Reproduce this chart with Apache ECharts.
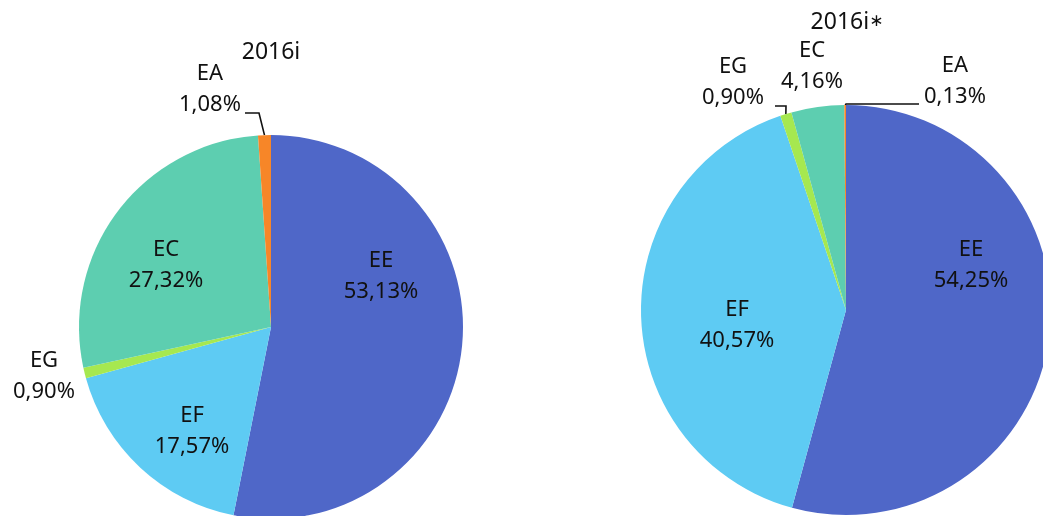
<!DOCTYPE html>
<html>
<head>
<meta charset="utf-8">
<script src="https://cdn.jsdelivr.net/npm/echarts@6/dist/echarts.min.js"></script>
<style>
html,body{margin:0;padding:0;background:#fff;}
#chart{width:1043px;height:516px;}
</style>
</head>
<body>
<div id="chart"></div>
<script>
// ---- data ----
var categories = ['EE', 'EF', 'EG', 'EC', 'EA'];
var valuesLeft = [53.13, 17.57, 0.90, 27.32, 1.08];
var valuesRight = [54.25, 40.57, 0.90, 4.16, 0.13];
var titleLeft = '2016i';
var titleRight = '2016i';
var titleRightMark = '\u2217';

// ---- styles / layout ----
var colors = {EE: '#4F67C8', EF: '#5ECBF3', EG: '#A6E850', EC: '#5DCEB0', EA: '#F78628'};
var FONT = 'Noto Sans';
var labelPos = [
  {EE: [381, 276], EF: [192, 431], EG: [44, 376], EC: [166, 265], EA: [210, 89]},
  {EE: [971, 265], EF: [737, 325], EG: [733, 82], EC: [812, 66], EA: [955, 81]}
];
// bend points of label lines (after the slice-edge point), by series
var linePts = [
  {EA: [[259, 113], [245, 113]]},
  {EG: [[786, 106], [775, 106]], EA: [[846, 104], [919, 104]]}
];

function fmt(p) {
  return p.name + '\n' + p.value.toFixed(2).replace('.', ',') + '%';
}

function buildData(vals, si) {
  return categories.map(function (c, i) {
    var hasLine = !!linePts[si][c];
    return {
      name: c,
      value: vals[i],
      itemStyle: {color: colors[c]},
      labelLine: {show: hasLine}
    };
  });
}

function makeLayout(si) {
  return function (params) {
    var name = categories[params.dataIndex];
    var pos = labelPos[si][name];
    var res = {x: pos[0], y: pos[1], align: 'center', verticalAlign: 'middle'};
    var lp = linePts[si][name];
    if (lp && params.labelLinePoints) {
      res.labelLinePoints = [params.labelLinePoints[0]].concat(lp);
    }
    return res;
  };
}

function series(vals, si, center, radius) {
  return {
    type: 'pie',
    center: center,
    radius: radius,
    startAngle: 90,
    clockwise: true,
    avoidLabelOverlap: false,
    silent: true,
    data: buildData(vals, si),
    label: {
      show: true,
      position: 'outside',
      formatter: fmt,
      color: '#111',
      fontFamily: FONT,
      fontSize: 22,
      lineHeight: 31,
      align: 'center'
    },
    labelLine: {
      show: true,
      length: 10,
      length2: 10,
      lineStyle: {color: '#111', width: 1.6}
    },
    labelLayout: makeLayout(si),
    emphasis: {disabled: true}
  };
}

var chart = echarts.init(document.getElementById('chart'), null, {renderer: 'canvas'});
chart.setOption({
  animation: false,
  backgroundColor: '#fff',
  graphic: [
    {type: 'text', silent: true,
     style: {text: titleLeft, x: 271, y: 52, align: 'center', verticalAlign: 'middle',
       font: '23px "' + FONT + '"', fill: '#111'}},
    {type: 'text', silent: true,
     style: {text: '{a|' + titleRight + '}{b|' + titleRightMark + '}', x: 847, y: 22,
       align: 'center', verticalAlign: 'middle', fill: '#111',
       rich: {a: {fontFamily: FONT, fontSize: 23, fill: '#111'},
              b: {fontFamily: 'DejaVu Sans', fontSize: 17, fill: '#111'}}}}
  ],
  series: [
    series(valuesLeft, 0, [271, 327], 192),
    series(valuesRight, 1, [846, 310], 205)
  ]
});
</script>
</body>
</html>
